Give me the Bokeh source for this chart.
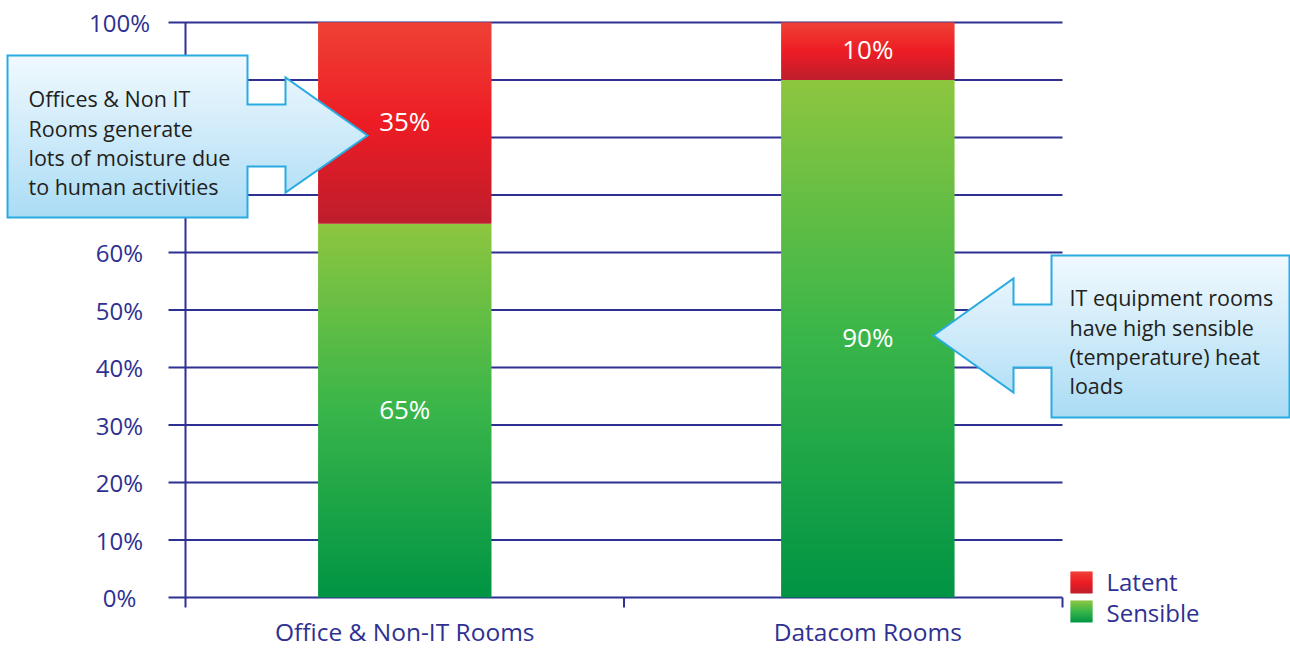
import math
import numpy as np
from bokeh.plotting import figure
from bokeh.models import Range1d
from bokeh.core.properties import value
from bokeh.embed import file_html
from bokeh.resources import INLINE

# ---- chart data -------------------------------------------------------
categories = ["Office & Non-IT Rooms", "Datacom Rooms"]
sensible = [65, 90]
latent = [35, 10]
series_names = ["Latent", "Sensible"]
y_ticks = [0, 10, 20, 30, 40, 50, 60, 70, 80, 90, 100]
y_tick_labels = ["0%", "10%", "20%", "30%", "40%", "50%", "60%", "70%", "80%", "90%", "100%"]
office_note = ["Offices & Non IT", "Rooms generate", "lots of moisture due", "to human activities"]
datacom_note = ["IT equipment rooms", "have high sensible", "(temperature) heat", "loads"]

# ---- geometry / style -------------------------------------------------
W, H = 1290, 648
X0, X_UNIT = 185, 438.5   # canvas px of x=0 and px per x unit
Y0, Y_UNIT = 597, 5.75    # canvas px of y=0 and px per percentage point
CAT_X = [0.5, 1.556]      # category centres on the x scale
BAR_W = 0.395

NAVY = "#2e3192"
TEXT_DARK = "#231f20"
FONT = value("Open Sans")

RED_STOPS = [(0.0, "#ef4136"), (0.5, "#ed1c24"), (1.0, "#be1e2d")]
GREEN_STOPS = [(0.0, "#8dc63f"), (0.5, "#39b54a"), (1.0, "#009444")]
CALLOUT_STOPS = [(0.0, "#f1f9fe"), (1.0, "#aadcf5")]


def dx(px):
    return (px - X0) / X_UNIT


def dy(py):
    return (Y0 - py) / Y_UNIT


def hex_rgb(h):
    h = h.lstrip("#")
    return [int(h[i:i + 2], 16) for i in (0, 2, 4)]


def color_at(stops, f):
    f = min(max(f, 0.0), 1.0)
    for (p0, c0), (p1, c1) in zip(stops[:-1], stops[1:]):
        if f <= p1:
            t = 0 if p1 == p0 else (f - p0) / (p1 - p0)
            a, b = hex_rgb(c0), hex_rgb(c1)
            rgb = [round(a[i] + (b[i] - a[i]) * t) for i in range(3)]
            return "#%02x%02x%02x" % tuple(rgb)
    return stops[-1][1]


def vertical_gradient(left, right, bottom, top, stops, step_px=2.0):
    """Thin stacked strips (data units) shading from top colour to bottom colour."""
    step = step_px / Y_UNIT
    n = max(1, math.ceil((top - bottom) / step))
    out = dict(left=[], right=[], bottom=[], top=[], color=[])
    for k in range(n):
        b = bottom + k * step
        t = min(b + step * 1.6, top)
        f = 1 - (b + step / 2 - bottom) / (top - bottom)
        out["left"].append(left)
        out["right"].append(right)
        out["bottom"].append(b)
        out["top"].append(t)
        out["color"].append(color_at(stops, f))
    return out


def polygon_gradient(pts, stops, step_px=1.0):
    """Scanline fill of a pixel polygon with a top-to-bottom gradient."""
    ys = [p[1] for p in pts]
    y_top, y_bot = min(ys), max(ys)
    out = dict(left=[], right=[], bottom=[], top=[], color=[])
    y = y_top
    while y < y_bot:
        yc = y + step_px / 2
        xs = []
        for (x1, y1), (x2, y2) in zip(pts, pts[1:] + pts[:1]):
            if y1 == y2:
                continue
            if min(y1, y2) <= yc < max(y1, y2):
                xs.append(x1 + (yc - y1) * (x2 - x1) / (y2 - y1))
        xs.sort()
        col = color_at(stops, (yc - y_top) / (y_bot - y_top))
        for a, b in zip(xs[0::2], xs[1::2]):
            out["left"].append(dx(a))
            out["right"].append(dx(b))
            out["top"].append(dy(y))
            out["bottom"].append(dy(min(y + step_px * 1.6, y_bot)))
            out["color"].append(col)
        y += step_px
    return out


p = figure(
    width=W, height=H,
    x_range=Range1d(dx(0), dx(W)), y_range=Range1d(dy(H), dy(0)),
    output_backend="svg", toolbar_location=None,
    x_axis_location=None, y_axis_location=None,
    min_border=0, outline_line_color=None,
    background_fill_color="white", border_fill_color="white",
)
for g in p.grid:
    g.visible = False

# ---- grid lines, axis line and ticks ----------------------------------
p.segment(x0=[dx(168)] * len(y_ticks), x1=[2.0] * len(y_ticks), y0=y_ticks, y1=y_ticks,
          line_color=NAVY, line_width=2)
p.segment(x0=[0, 1, 2], x1=[0, 1, 2], y0=[dy(607)] * 3, y1=[y_ticks[-1], 0, 0],
          line_color=NAVY, line_width=2)

p.text(x=[dx(119)] * len(y_ticks), y=y_ticks, text=y_tick_labels,
       text_align="center", text_baseline="middle", text_font=FONT,
       text_font_size="24px", text_color=NAVY)
p.text(x=CAT_X, y=[dy(631)] * len(categories), text=categories,
       text_align="center", text_baseline="middle", text_font=FONT,
       text_font_size="24.5px", text_color=NAVY)

# ---- stacked bars with gradient shading --------------------------------
label_x, label_y, label_txt = [], [], []
for cx, s, l in zip(CAT_X, sensible, latent):
    left, right = cx - BAR_W / 2, cx + BAR_W / 2
    g = vertical_gradient(left, right, 0, s, GREEN_STOPS)
    p.quad(left=g["left"], right=g["right"], bottom=g["bottom"], top=g["top"],
           fill_color=g["color"], line_color=None)
    r = vertical_gradient(left, right, s, s + l, RED_STOPS)
    p.quad(left=r["left"], right=r["right"], bottom=r["bottom"], top=r["top"],
           fill_color=r["color"], line_color=None)
    label_x += [cx, cx]
    label_y += [s / 2 + 2 / Y_UNIT, s + l / 2 + 2 / Y_UNIT]
    label_txt += [f"{s}%", f"{l}%"]

p.text(x=label_x, y=label_y, text=label_txt, text_align="center",
       text_baseline="middle", text_font=FONT, text_font_size="26px",
       text_color="white")

# ---- arrow callouts ------------------------------------------------------
office_arrow = [(7, 55), (247, 55), (247, 104), (285, 104), (285, 77), (367, 135),
                (285, 192), (285, 166), (247, 166), (247, 217), (7, 217)]
datacom_arrow = [(1289, 255), (1051, 255), (1051, 304), (1013, 304), (1013, 278), (933, 335),
                 (1013, 392), (1013, 367), (1051, 367), (1051, 417), (1289, 417)]

for shape in (office_arrow, datacom_arrow):
    g = polygon_gradient(shape, CALLOUT_STOPS)
    p.quad(left=g["left"], right=g["right"], bottom=g["bottom"], top=g["top"],
           fill_color=g["color"], line_color=None)
    p.patch(x=[dx(a) for a, _ in shape], y=[dy(b) for _, b in shape],
            fill_color=None, line_color="#29abe2", line_width=2, line_join="miter")

p.text(x=[dx(28)] * 4, y=[dy(b) for b in (98, 127.5, 157, 186)], text=office_note,
       text_align="left", text_baseline="middle", text_font=FONT,
       text_font_size="21.5px", text_color=TEXT_DARK)
p.text(x=[dx(1069)] * 4, y=[dy(b) for b in (297, 326.5, 356, 384.5)], text=datacom_note,
       text_align="left", text_baseline="middle", text_font=FONT,
       text_font_size="21.5px", text_color=TEXT_DARK)

# ---- legend ---------------------------------------------------------------
for (top_px, stops) in ((571, RED_STOPS), (600, GREEN_STOPS)):
    g = vertical_gradient(dx(1070), dx(1092), dy(top_px + 22), dy(top_px), stops, step_px=1.0)
    p.quad(left=g["left"], right=g["right"], bottom=g["bottom"], top=g["top"],
           fill_color=g["color"], line_color=None)
p.text(x=[dx(1106)] * 2, y=[dy(581), dy(612)], text=series_names,
       text_align="left", text_baseline="middle", text_font=FONT,
       text_font_size="24px", text_color=NAVY)

open("out.html", "w").write(file_html(p, INLINE))
